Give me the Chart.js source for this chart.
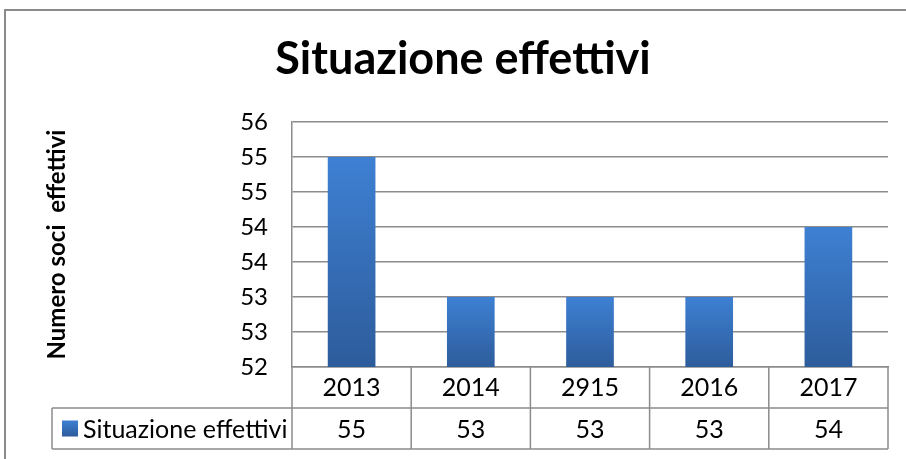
<!DOCTYPE html>
<html><head><meta charset="utf-8">
<script src="https://cdn.jsdelivr.net/npm/chart.js@4.4.1/dist/chart.umd.min.js"></script>
<style>html,body{margin:0;padding:0;background:#fff}#wrap{width:906px;height:459px;position:relative}canvas{display:block}</style>
</head><body><div id="wrap"><canvas id="c" width="906" height="459"></canvas></div>
<script>
const categories = ['2013', '2014', '2915', '2016', '2017'];
const seriesName = 'Situazione effettivi';
const values = [55, 53, 53, 53, 54];
const tickLabels = ['52', '53', '53', '54', '54', '55', '55', '56'];
const yTitle = 'Numero soci  effettivi';
const chartTitle = 'Situazione effettivi';

const FONT = 'Lato, "Open Sans", sans-serif';
const GRID = '#8c8c8c';
const TOPC = '#3e80d3';
const BOTC = '#2d5c9b';

function barGradient(ctx, top, bottom) {
  const g = ctx.createLinearGradient(0, top, 0, bottom);
  g.addColorStop(0, TOPC);
  g.addColorStop(1, BOTC);
  return g;
}

const framePlugin = {
  id: 'frame',
  beforeDraw(chart) {
    const c = chart.ctx;
    c.save();
    c.fillStyle = '#fff';
    c.fillRect(0, 0, chart.width, chart.height);
    c.strokeStyle = '#8a8a8a';
    c.lineWidth = 2;
    c.beginPath();
    c.moveTo(5, chart.height);
    c.lineTo(5, 10);
    c.lineTo(chart.width, 10);
    c.stroke();
    c.restore();
  }
};

const tablePlugin = {
  id: 'dataTable',
  afterDraw(chart) {
    const c = chart.ctx;
    const xs = chart.scales.x;
    const area = chart.chartArea;
    const step = xs.getPixelForValue(1) - xs.getPixelForValue(0);
    const rowH = 41;
    const r1 = area.bottom + rowH;
    const r2 = r1 + rowH;
    const legLeft = 52;
    c.save();
    c.strokeStyle = GRID;
    c.lineWidth = 1.5;
    c.beginPath();
    c.moveTo(legLeft, r1); c.lineTo(area.right, r1);
    c.moveTo(legLeft, r2); c.lineTo(area.right, r2);
    c.moveTo(legLeft, r1); c.lineTo(legLeft, r2);
    for (let i = 0; i <= categories.length; i++) {
      const x = xs.getPixelForValue(0) - step / 2 + i * step;
      c.moveTo(x, area.bottom); c.lineTo(x, r2);
    }
    c.stroke();
    // legend key
    const my = (r1 + r2) / 2;
    c.fillStyle = barGradient(c, my - 8, my + 8);
    c.fillRect(62, my - 8, 16, 16);
    c.fillStyle = '#000';
    c.font = '25px ' + FONT;
    c.textBaseline = 'middle';
    c.textAlign = 'left';
    c.fillText(seriesName, 83, my + 1);
    c.textAlign = 'center';
    values.forEach((v, i) => {
      c.fillText(String(v), xs.getPixelForValue(i), my + 1);
    });
    c.restore();
  }
};

new Chart(document.getElementById('c'), {
  type: 'bar',
  data: {
    labels: categories,
    datasets: [{
      label: seriesName,
      data: values,
      backgroundColor: (ctx) => {
        const chart = ctx.chart;
        const area = chart.chartArea;
        if (!area || ctx.type !== 'data') return TOPC;
        const top = chart.scales.y.getPixelForValue(ctx.raw);
        return barGradient(chart.ctx, top, area.bottom);
      },
      borderWidth: 0,
      categoryPercentage: 0.4,
      barPercentage: 1.0
    }]
  },
  options: {
    responsive: false,
    animation: false,
    devicePixelRatio: 1,
    layout: { padding: { left: 38, right: 18, top: 0, bottom: 0 } },
    plugins: {
      legend: { display: false },
      tooltip: { enabled: false },
      title: {
        display: true,
        text: chartTitle,
        color: '#000',
        font: { family: FONT, size: 45, weight: 'bold' },
        padding: { top: 32, bottom: 36 }
      }
    },
    scales: {
      x: {
        grid: { display: false, drawTicks: false },
        border: { display: true, color: GRID, width: 1.5 },
        ticks: { color: '#000', font: { family: FONT, size: 25 }, padding: 6, maxRotation: 0 },
        afterFit(scale) { scale.height = 92; }
      },
      y: {
        min: 52,
        max: 55.5,
        grid: { color: GRID, lineWidth: 1.5, drawTicks: false },
        border: { display: true, color: GRID, width: 1.5 },
        ticks: {
          stepSize: 0.5,
          color: '#000',
          padding: 24,
          font: { family: FONT, size: 24 },
          callback: (v, i) => tickLabels[i]
        },
        title: {
          display: true,
          text: yTitle,
          color: '#000',
          font: { family: FONT, size: 24, weight: 'bold' },
          padding: { top: 5, bottom: 0 }
        },
        afterFit(scale) { scale.width = 254; }
      }
    }
  },
  plugins: [framePlugin, tablePlugin]
});
</script>
</body></html>
